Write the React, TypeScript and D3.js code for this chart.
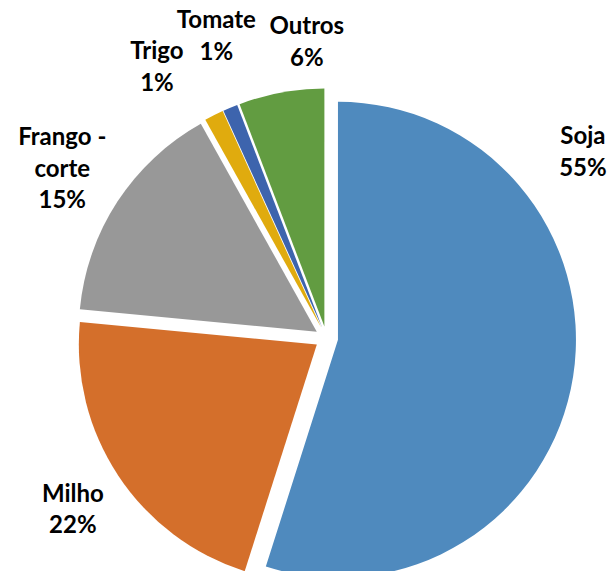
import React, { useEffect, useRef } from 'react';
import * as d3 from 'd3';

const categories = ["Soja", "Milho", "Frango - corte", "Trigo", "Tomate", "Outros"];
const values = [54.9, 21.6, 15.4, 1.3, 1.0, 5.8];
const labelLines = [["Soja"], ["Milho"], ["Frango -", "corte"], ["Trigo"], ["Tomate"], ["Outros"]];
const colors = ["#4F8ABE", "#D46F2B", "#989898", "#E0AB0E", "#3D64AD", "#629C41"];

// where each label sits: angle (deg, clockwise from top) and distance from centre
const labelLayout = [
  { angle: 54, dist: 317 },
  { angle: 236, dist: 306 },
  { angle: 302.7, dist: 314 },
  { angle: 328, dist: 320 },
  { angle: 340, dist: 322 },
  { angle: 356.2, dist: 297 },
];

const App: React.FC = () => {
  const ref = useRef<SVGSVGElement | null>(null);

  useEffect(() => {
    if (!ref.current) return;
    const width = 612;
    const height = 571;
    const cx = 326.5;
    const cy = 338;
    const radius = 238;
    const explode = 11.6;

    const svg = d3.select(ref.current);
    svg.selectAll("*").remove();
    svg.attr("width", width).attr("height", height);

    const data = categories.map((c, i) => ({ name: c, value: values[i], idx: i }));
    const pie = d3.pie<any>().value(d => d.value).sort(null);
    const arcs = pie(data);
    const arc = d3.arc<any>().innerRadius(0).outerRadius(radius);

    const g = svg.append("g").attr("transform", `translate(${cx},${cy})`);

    g.selectAll("path")
      .data(arcs)
      .join("path")
      .attr("d", arc)
      .attr("fill", d => colors[d.data.idx])
      .attr("transform", d => {
        const mid = (d.startAngle + d.endAngle) / 2;
        return `translate(${Math.sin(mid) * explode},${-Math.cos(mid) * explode})`;
      });

    const total = d3.sum(values);
    const fontSize = 24;
    const lineH = 31.5;

    arcs.forEach((d, i) => {
      const lay = labelLayout[i];
      const a = (lay.angle * Math.PI) / 180;
      const x = Math.sin(a) * lay.dist;
      const y = -Math.cos(a) * lay.dist;
      const lines = [...labelLines[i], `${Math.round((d.data.value / total) * 100)}%`];
      const t = g.append("text")
        .attr("text-anchor", "middle")
        .attr("font-family", "Lato, 'Open Sans', sans-serif")
        .attr("font-weight", "bold")
        .attr("font-size", fontSize)
        .attr("fill", "#000");
      lines.forEach((ln, j) => {
        t.append("tspan")
          .attr("x", x)
          .attr("y", y + (j - (lines.length - 1) / 2) * lineH)
          .attr("dy", "0.35em")
          .text(ln);
      });
    });
  }, []);

  return (
    <div style={{ position: "absolute", left: 0, top: 0, background: "#fff" }}>
      <svg ref={ref} style={{ display: "block" }}></svg>
    </div>
  );
};

export default App;
